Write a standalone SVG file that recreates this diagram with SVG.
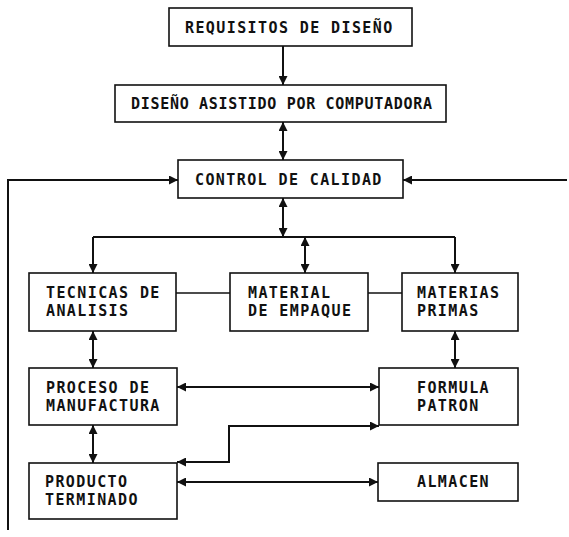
<svg xmlns="http://www.w3.org/2000/svg" width="569" height="537" viewBox="0 0 569 537">
<style>
.box{fill:#fff;stroke:#111;stroke-width:1.6}
.t{font-family:"DejaVu Sans Mono","Liberation Mono",monospace;font-size:15px;font-weight:bold;letter-spacing:1.4px;fill:#111}
.c{stroke:#111;stroke-width:2;fill:none}
.l{stroke:#111;stroke-width:1.6;fill:none}
</style>
<defs>
<marker id="ah" viewBox="0 0 10 10" refX="10" refY="5" markerWidth="9" markerHeight="9" markerUnits="userSpaceOnUse" orient="auto-start-reverse">
<path d="M0,0 L10,5 L0,10 z" fill="#111"/>
</marker>
</defs>
<rect width="569" height="537" fill="#fff"/>
<g id="connectors">
<path class="c" d="M283,46 V85" marker-end="url(#ah)"/>
<path class="c" d="M283,122 V160" marker-start="url(#ah)" marker-end="url(#ah)"/>
<path class="c" d="M283,198 V237" marker-start="url(#ah)" marker-end="url(#ah)"/>
<path class="c" d="M93,237 H455"/>
<path class="c" d="M93,237 V273" marker-end="url(#ah)"/>
<path class="c" d="M305,237 V273" marker-start="url(#ah)" marker-end="url(#ah)"/>
<path class="c" d="M455,237 V273" marker-end="url(#ah)"/>
<path class="l" d="M176,293 H230"/>
<path class="l" d="M368,293 H402"/>
<path class="c" d="M93,331 V368" marker-start="url(#ah)" marker-end="url(#ah)"/>
<path class="c" d="M455,331 V368" marker-start="url(#ah)" marker-end="url(#ah)"/>
<path class="c" d="M177,387 H379" marker-start="url(#ah)" marker-end="url(#ah)"/>
<path class="c" d="M93,425 V463" marker-start="url(#ah)" marker-end="url(#ah)"/>
<path class="c" d="M177,462 H229 V426 H379" marker-start="url(#ah)" marker-end="url(#ah)"/>
<path class="c" d="M177,482 H378" marker-start="url(#ah)" marker-end="url(#ah)"/>
<path class="c" d="M8,530 V180 H178" marker-end="url(#ah)"/>
<path class="c" d="M567,180 H403" marker-end="url(#ah)"/>
</g>
<g id="requisitos"><rect class="box" x="169" y="8" width="243" height="38"/><text class="t" x="185" y="33">REQUISITOS DE DISEÑO</text></g>
<g id="diseno"><rect class="box" x="115" y="85" width="331" height="37"/><text class="t" x="131" y="109" style="letter-spacing:0.7px">DISEÑO ASISTIDO POR COMPUTADORA</text></g>
<g id="control"><rect class="box" x="178" y="160" width="225" height="38"/><text class="t" x="195" y="185">CONTROL DE CALIDAD</text></g>
<g id="tecnicas"><rect class="box" x="29" y="273" width="147" height="58"/><text class="t" x="46" y="298">TECNICAS DE</text><text class="t" x="46" y="316">ANALISIS</text></g>
<g id="material"><rect class="box" x="230" y="273" width="138" height="58"/><text class="t" x="248" y="298">MATERIAL</text><text class="t" x="248" y="316">DE EMPAQUE</text></g>
<g id="materias"><rect class="box" x="402" y="273" width="116" height="58"/><text class="t" x="417" y="298">MATERIAS</text><text class="t" x="417" y="316">PRIMAS</text></g>
<g id="proceso"><rect class="box" x="29" y="368" width="148" height="57"/><text class="t" x="46" y="393">PROCESO DE</text><text class="t" x="46" y="411">MANUFACTURA</text></g>
<g id="formula"><rect class="box" x="379" y="368" width="139" height="57"/><text class="t" x="417" y="393">FORMULA</text><text class="t" x="417" y="411">PATRON</text></g>
<g id="producto"><rect class="box" x="29" y="463" width="148" height="56"/><text class="t" x="45" y="487">PRODUCTO</text><text class="t" x="45" y="505">TERMINADO</text></g>
<g id="almacen"><rect class="box" x="378" y="463" width="140" height="38"/><text class="t" x="417" y="487">ALMACEN</text></g>
</svg>
